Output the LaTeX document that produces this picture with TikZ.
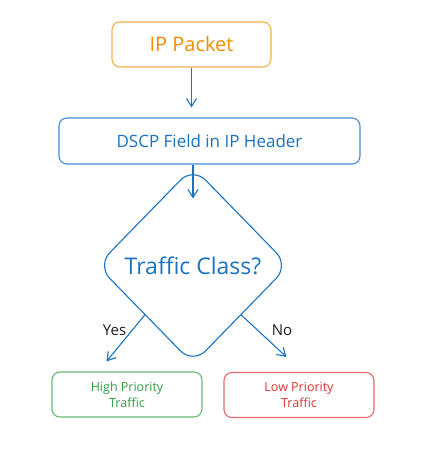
\documentclass[tikz,border=0pt]{standalone}
\usepackage{fontspec}
\setmainfont{Open Sans}
\usetikzlibrary{arrows.meta,positioning,calc,shapes.geometric}
\definecolor{pktorange}{RGB}{240,140,0}
\definecolor{pktline}{RGB}{245,175,80}
\definecolor{dscpblue}{RGB}{25,113,194}
\definecolor{dscpline}{RGB}{70,140,210}
\definecolor{hiGreen}{RGB}{47,158,68}
\definecolor{hiline}{RGB}{105,185,115}
\definecolor{loRed}{RGB}{224,49,49}
\definecolor{loline}{RGB}{232,105,105}
\definecolor{inkblack}{RGB}{30,30,30}

\begin{document}
\begin{tikzpicture}[
  x=1pt, y=-1pt,
  box/.style={rectangle, rounded corners=8pt, line width=1.1pt, minimum height=45pt, align=center},
  decision/.style={diamond, draw=dscpblue, line width=1.1pt, rounded corners=18pt, minimum width=192pt, minimum height=197pt, inner sep=0pt},
  flow/.style={dscpblue, line width=1.1pt, -{Straight Barb[length=8pt,width=10pt]}},
  lbl/.style={font=\fontsize{15}{17}\selectfont, text=inkblack}
]
\useasboundingbox (0,0) rectangle (423,452);

\node[box, draw=pktline, text=pktorange, minimum width=159pt, font=\fontsize{20}{22}\selectfont] (pkt) at (191.5,44.5) {IP Packet};
\node[box, draw=dscpline, text=dscpblue, minimum width=301pt, minimum height=46pt, font=\fontsize{17}{20}\selectfont] (dscp) at (209.5,141) {DSCP Field in IP Header};
\node[decision, label={[text=dscpblue, font=\fontsize{23}{26}\selectfont]center:Traffic Class?}] (cls) at (193,265.5) {};
\node[box, draw=hiline, text=hiGreen, minimum width=150pt, font=\fontsize{12.5}{16}\selectfont] (high) at (127,394.5) {High Priority\\Traffic};
\node[box, draw=loline, text=loRed, minimum width=150pt, font=\fontsize{12.5}{16}\selectfont] (low) at (299,395) {Low Priority\\Traffic};

\draw[flow, shorten >=10pt] (pkt.south) -- (pkt.south |- dscp.north);
\draw[flow] (dscp.south -| cls.north) -- ([yshift=-32pt]cls.north);
\draw[flow] (cls.south west) -- node[lbl, pos=0.33, left=2pt] {Yes} ([xshift=55pt,yshift=10pt]high.north west);
\draw[flow] (cls.south east) -- node[lbl, pos=0.37, right=10pt] {No} ([xshift=63pt,yshift=15pt]low.north west);
\end{tikzpicture}
\end{document}
